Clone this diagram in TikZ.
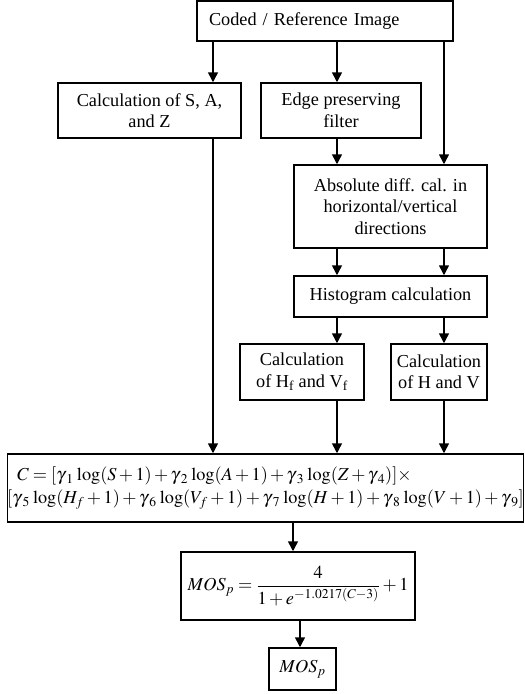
\documentclass[tikz,border=0pt]{standalone}
\usepackage{mathptmx}
\usepackage[no-math]{fontspec}
\setmainfont{Liberation Serif}
\usetikzlibrary{arrows.meta,calc}
\newcommand{\gm}[1]{\gamma\mkern1.2mu{}_{#1}\mkern1.2mu}
\begin{document}
\begin{tikzpicture}[x=1pt,y=-1pt,
  box/.style={draw,line width=1.2pt,inner sep=0pt,align=center,font=\fontsize{18.25}{21.5}\selectfont},
  arr/.style={line width=2.4pt,-{Triangle[length=10pt,width=9.5pt]}}]
\useasboundingbox (0,0) rectangle (525,694);
\node[box,minimum width=256,minimum height=40,text width=232,inner xsep=12pt,align=left] (top) at (325,21) {Coded / Reference Image};
\node[box,minimum width=183,minimum height=55] (calc) at (149.5,110.5) {Calculation of S, A,\\and Z};
\node[box,minimum width=160,minimum height=55] (edge) at (341,110.5) {Edge preserving\\filter};
\node[box,minimum width=193,minimum height=83] (abs) at (390.5,206.5) {Absolute diff. cal. in\\horizontal/vertical\\directions};
\node[box,minimum width=193,minimum height=41] (hist) at (390.5,296.5) {Histogram calculation};
\node[box,minimum width=124,minimum height=56] (hf) at (302,372) {Calculation\\of H\textsubscript{f} and V\textsubscript{f}};
\node[box,minimum width=96,minimum height=56] (hv) at (439,372) {Calculation\\of H and V};
\node[box,minimum width=513,minimum height=68,align=left] (big) at (265.5,488)
 {\medmuskip=2.3mu plus 1mu minus 1mu\relax
  \hspace*{10pt}$C=[\gm{1}\log(S+1)+\gm{2}\log(A+1)+\gm{3}\log(Z+\gamma\mkern1.2mu{}_{4})]\times$\\[2pt]
  $[\gm{5}\log(H_f+1)+\gm{6}\log(V_f+1)+\gm{7}\log(H+1)+\gm{8}\log(V+1)+\gamma\mkern1.2mu{}_{9}]$};
\node[box,minimum width=234,minimum height=68] (mos) at (298,586) {$\displaystyle MOS_p=\frac{4}{1+e^{-1.0217(C-3)}}+1$};
\node[box,minimum width=67,minimum height=42] (mosp) at (302.5,669) {$MOS_p$};
\coordinate (xa) at (213,0);
\coordinate (xb) at (337,0);
\coordinate (xc) at (444,0);
\coordinate (xd) at (293,0);
\coordinate (xe) at (300,0);
\draw[arr] (top.south -| xa) -- (calc.north -| xa);
\draw[arr] (top.south -| xb) -- (edge.north -| xb);
\draw[arr] (top.south -| xc) -- (abs.north -| xc);
\draw[arr] (edge.south -| xb) -- (abs.north -| xb);
\draw[arr] (calc.south -| xa) -- (big.north -| xa);
\draw[arr] (abs.south -| xb) -- (hist.north -| xb);
\draw[arr] (abs.south -| xc) -- (hist.north -| xc);
\draw[arr] (hist.south -| xb) -- (hf.north -| xb);
\draw[arr] (hist.south -| xc) -- (hv.north -| xc);
\draw[arr] (hf.south -| xb) -- (big.north -| xb);
\draw[arr] (hv.south -| xc) -- (big.north -| xc);
\draw[arr] (big.south -| xd) -- (mos.north -| xd);
\draw[arr] (mos.south -| xe) -- (mosp.north -| xe);
\end{tikzpicture}
\end{document}
